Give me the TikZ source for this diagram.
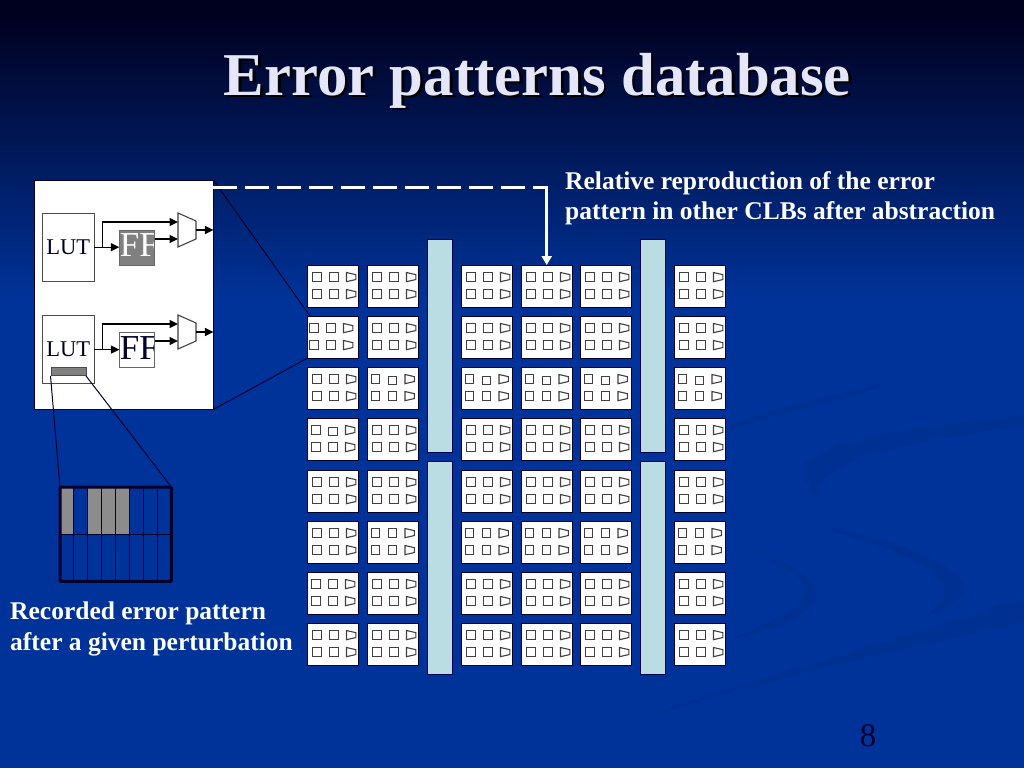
\documentclass[tikz,border=0pt]{standalone}
\usepackage{fontspec}
\setmainfont{Liberation Serif}
\usepackage{tikz}
\usetikzlibrary{arrows.meta}
\usetikzlibrary{positioning}
\definecolor{slideblue}{HTML}{003399}
\definecolor{slidetop}{HTML}{00001F}
\definecolor{swirlblue}{HTML}{003091}
\definecolor{busblue}{HTML}{B9DDE3}
\definecolor{titlelav}{HTML}{E6E6FA}
\definecolor{inkdark}{HTML}{00002B}
\tikzset{
  bigbox/.style={draw=inkdark, fill=white, inner sep=0pt},
  lutbox/.style={draw=black!70, fill=white, inner sep=0pt,
    minimum width=52pt, minimum height=68pt, text=inkdark,
    font=\fontsize{22.5}{26}\selectfont},
  ffbox/.style={draw=black!60, inner sep=0pt,
    minimum width=35pt, minimum height=35pt},
  fftext/.style={inner sep=0pt, anchor=west, yshift=2pt,
    font=\fontsize{35}{40}\selectfont},
  clbbox/.style={draw=inkdark, fill=white, inner sep=0pt, anchor=north west,
    minimum width=51pt, minimum height=42pt},
  sqbox/.style={draw=black!75, line width=1.2pt, inner sep=0pt,
    minimum size=8.5pt},
  busbox/.style={draw=black!70!blue, fill=busblue, inner sep=0pt, anchor=north west,
    minimum width=25pt},
  sigarrow/.style={line width=1.3pt, -{Triangle[length=8.5pt,width=8pt]}},
  thinline/.style={line width=1pt, draw=inkdark},
  bodytext/.style={anchor=west, align=left, inner sep=0pt, text=white,
    font=\bfseries\fontsize{25.5}{30.5}\selectfont},
  titletext/.style={font=\bfseries\fontsize{60.8}{72}\selectfont},
  pics/muxshape/.style={code={
    \draw[line width=1.1pt, draw=black!75, fill=white]
      (0,0) -- (18,8) -- (18,26) -- (0,34) -- cycle;
    \coordinate (-in1) at (0,9);
    \coordinate (-in2) at (0,26);
    \coordinate (-out) at (18,17);
  }}
}
\begin{document}
\begin{tikzpicture}[x=1pt,y=-1pt]
\useasboundingbox (0,0) rectangle (1024,768);

% Background
\fill[slideblue] (0,0) rectangle (1024,768);
\shade[top color=slidetop, bottom color=slideblue] (0,12) rectangle (1024,300);
\fill[slidetop] (0,0) rectangle (1024,13);

% Swirls
\fill[swirlblue] (1024,414) .. controls (950,425) and (850,430) .. (805,462)
  .. controls (797,470) and (800,480) .. (818,497)
  .. controls (818,480) and (830,468) .. (870,455)
  .. controls (920,440) and (980,430) .. (1024,428) -- cycle;
\fill[swirlblue] (1024,597) -- (1024,622)
  .. controls (900,650) and (800,670) .. (600,730)
  .. controls (750,680) and (900,640) .. (1024,597) -- cycle;
\fill[swirlblue] (820,527) .. controls (880,535) and (960,560) .. (965,590)
  .. controls (966,600) and (945,610) .. (925,617)
  .. controls (945,600) and (950,590) .. (935,575)
  .. controls (915,555) and (860,540) .. (820,527) -- cycle;
\fill[swirlblue] (730,540) .. controls (770,555) and (820,575) .. (817,595)
  .. controls (815,615) and (770,630) .. (730,640)
  .. controls (760,625) and (805,610) .. (805,590)
  .. controls (800,570) and (760,555) .. (730,540) -- cycle;
\fill[swirlblue] (730,425) .. controls (780,405) and (840,395) .. (900,380)
  .. controls (850,400) and (790,410) .. (730,430) -- cycle;

% Title
\node [titletext, text=black] (titleshadow) at (540,83) {Error patterns database};
\node [titletext, text=titlelav] (title) at (537.5,80.5) {Error patterns database};

% Expanded CLB
\node [bigbox,
    anchor=north west,
    minimum width=179pt,
    minimum height=229pt
] (clbbig) at (34,180) {};

\node [lutbox,
    below right=33pt and 8pt of clbbig.north west
] (lut1) {\raisebox{-2pt}{LUT}};

\node [lutbox,
    below=34pt of lut1
] (lut2) {\raisebox{-2pt}{LUT}};

\node [ffbox,
    fill=black!50,
    right=25pt of lut1,
    path picture={\node[fftext, text=white] (fflabel1) at (path picture bounding box.west) {FF};}
] (ff1) {};

\node [ffbox,
    fill=white,
    right=25pt of lut2,
    path picture={\node[fftext, text=inkdark] (fflabel2) at (path picture bounding box.west) {FF};}
] (ff2) {};

\node [draw=black!70,
    fill=black!50,
    inner sep=0pt,
    minimum width=35pt,
    minimum height=8pt,
    above=8pt of lut2.south
] (bitrow) {};

\pic (mux1) at (178,213) {muxshape};
\pic (mux2) at (178,315) {muxshape};

\coordinate [right=8pt of lut1.east] (tap1);
\coordinate [right=8pt of lut2.east] (tap2);

\draw[sigarrow] (lut1.east) -- (ff1.west);
\draw[sigarrow] (tap1) |- (mux1-in1);
\draw[sigarrow] (ff1.east |- mux1-in2) -- (mux1-in2);
\draw[sigarrow] (mux1-out) -- (clbbig.east |- mux1-out);

\draw[sigarrow] (lut2.east) -- (ff2.west);
\draw[sigarrow] (tap2) |- (mux2-in1);
\draw[sigarrow] (ff2.east |- mux2-in2) -- (mux2-in2);
\draw[sigarrow] (mux2-out) -- (clbbig.east |- mux2-out);

% Error pattern
\node [anchor=north west,
    inner sep=0pt,
    minimum width=111pt,
    minimum height=94pt
] (errgrid) at (60,487) {};
\foreach \col in {0,2,3,4}
  \fill[black!45] (60+13.875*\col,487) rectangle (60+13.875*\col+13.875,534);
\foreach \col in {1,...,7}
  \draw[line width=1pt, draw=inkdark] (60+13.875*\col,487) -- (60+13.875*\col,581);
\draw[line width=1pt, draw=inkdark] (errgrid.west) -- (errgrid.east);
\draw[line width=3pt, draw=inkdark, rounded corners=1pt] (errgrid.north west) rectangle (errgrid.south east);

\draw[thinline] (bitrow.south west) -- (errgrid.north west);
\draw[thinline] (bitrow.south east) -- (errgrid.north east);

% CLB array
\foreach \cy/\rowdx/\rowjog [count=\rowno] in {
    265/{0,0,0,0,0,0}/{0,0,0,0,0,0},
    316/{-3,0,0,0,0,0}/{0,0,0,0,0,0},
    367/{0,-1.5,-1.5,-1.5,-1.5,-1.5}/{0,1.5,1.5,1.5,1.5,1.5},
    418/{-1,0,0,0,0,0}/{1.5,0,0,0,0,0},
    470/{0,0,0,0,0,0}/{0,0,0,0,0,0},
    521/{0,-1.5,-1.5,-1.5,-1.5,-1.5}/{0,0,0,0,0,0},
    572/{-1,0,0,0,0,0}/{0,0,0,0,0,0},
    623/{0,0,0,0,0,0}/{0,0,0,0,0,0}}
  \foreach \cx [count=\colno] in {307,367,461,521,580,674} {
    \pgfmathsetmacro{\dxval}{{\rowdx}[\colno-1]}
    \pgfmathsetmacro{\jogval}{{\rowjog}[\colno-1]}
    \node [clbbox] (clb-\rowno-\colno) at (\cx,\cy) {};
    \begin{scope}[shift={(\cx+\dxval,\cy)}]
      \foreach \sy/\lvl in {12/1,29/2} {
        \node [sqbox] (sqa-\rowno-\colno-\lvl) at (10,\sy) {};
        \pgfmathsetmacro{\midy}{\lvl==1 ? \sy+\jogval : \sy}
        \node [sqbox] (sqb-\rowno-\colno-\lvl) at (27,\midy) {};
        \pic[xscale=0.52, yscale=0.27] at (39.5,\sy-4.5) {muxshape};
      }
    \end{scope}
  }

% Routing bars
\node [busbox, minimum height=213pt] (bus1) at (427,239) {};
\node [busbox, minimum height=213pt] (bus2) at (640,239) {};
\node [busbox, minimum height=213pt] (bus3) at (427,461) {};
\node [busbox, minimum height=213pt] (bus4) at (640,461) {};

% Lines to the expanded CLB
\draw[thinline] (clbbig.north east) -- ([xshift=3pt]clb-2-1.north west);
\draw[thinline] (clbbig.south east) -- (clb-2-1.south west);

% Reproduction arrow
\coordinate (dashbend) at (clb-1-4.north |- 0,187.5);
\draw[white, line width=3pt, dash pattern=on 24pt off 8pt] (clbbig.east |- dashbend) -- (dashbend);
\draw[white, line width=3pt, -{Triangle[length=9pt,width=10pt]}] ([yshift=1.5pt]dashbend) -- (clb-1-4.north);

% Labels
\node [bodytext] (reprolabel) at (565,198) {Relative reproduction of the error\\pattern in other CLBs after abstraction};
\node [bodytext] (recordlabel) at (10,629) {Recorded error pattern\\after a given perturbation};
\node [text=inkdark, font=\fontsize{33}{36}\selectfont] (pageno) at (868,736) {8};

\end{tikzpicture}
\end{document}
